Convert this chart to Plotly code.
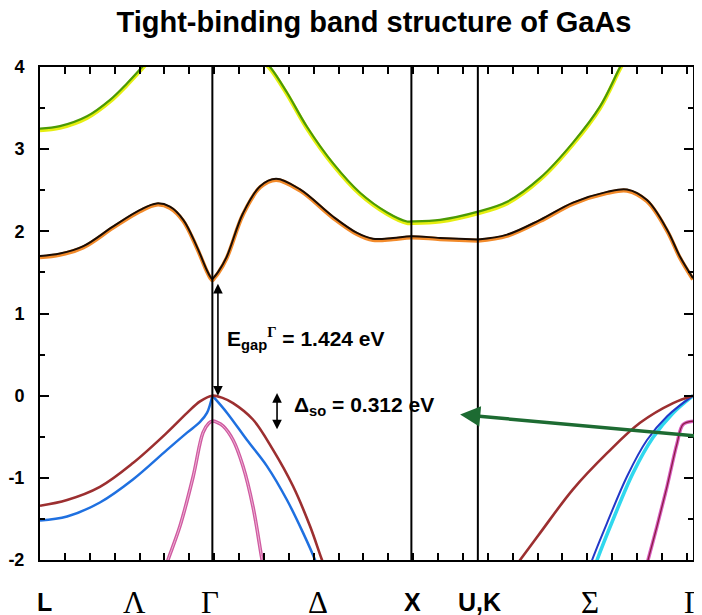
import plotly.graph_objects as go

# ---- symmetry points / axis labels ----
sym_names = ["L", "Λ", "Γ", "Δ", "X", "U,K", "Σ", "Γ"]
sym_k = [0.025, 0.477, 0.854, 1.397, 1.872, 2.21, 2.764, 3.281]
sym_serif = [False, True, True, True, False, False, True, True]
vlines_k = [0.866, 1.866, 2.20]
y_tickvals = [-2, -1, 0, 1, 2, 3, 4]
y_ticktext = ["-2", "-1", "0", "1", "2", "3", "4"]

# ---- band data (k, E in eV) ----
# lowest conduction band  L -> Gamma -> X -> U
cb_LGXU_k = [0, 0.1, 0.218, 0.368, 0.503, 0.586, 0.653, 0.720, 0.787, 0.838, 0.855, 0.866,
             0.877, 0.896, 0.938, 1.020, 1.106, 1.186, 1.307, 1.472, 1.593, 1.673, 1.774,
             1.866, 2.010, 2.20]
cb_LGXU_E = [1.70, 1.73, 1.82, 2.06, 2.26, 2.34, 2.30, 2.14, 1.82, 1.53, 1.45, 1.42,
             1.45, 1.51, 1.69, 2.22, 2.55, 2.64, 2.51, 2.18, 1.98, 1.91, 1.92,
             1.94, 1.92, 1.90]
cb_KG_k = [2.20, 2.347, 2.513, 2.678, 2.849, 2.950, 3.050, 3.151, 3.216, 3.281]
cb_KG_E = [1.90, 1.96, 2.14, 2.35, 2.48, 2.51, 2.38, 2.02, 1.69, 1.43]

# second conduction band
gr_LG_k = [0, 0.1, 0.236, 0.352, 0.437, 0.513, 0.55]
gr_LG_E = [3.25, 3.28, 3.40, 3.60, 3.80, 4.0, 4.1]
gr_GXK_k = [1.12, 1.156, 1.241, 1.342, 1.472, 1.608, 1.744, 1.844, 1.866, 2.010, 2.201,
            2.347, 2.513, 2.678, 2.814, 2.915, 2.95]
gr_GXK_E = [4.08, 4.0, 3.69, 3.27, 2.83, 2.47, 2.23, 2.12, 2.12, 2.14, 2.24,
            2.36, 2.65, 3.08, 3.52, 4.0, 4.15]

# heavy hole  L -> Gamma -> X, and K -> Gamma
hh_LGX_k = [0, 0.136, 0.301, 0.467, 0.638, 0.739, 0.804, 0.866, 0.920, 0.970, 1.070,
            1.171, 1.271, 1.357, 1.417, 1.45]
hh_LGX_E = [-1.34, -1.27, -1.11, -0.82, -0.45, -0.21, -0.07, 0.0, -0.03, -0.09, -0.29,
            -0.66, -1.10, -1.59, -2.0, -2.2]
hh_KG_k = [2.38, 2.412, 2.513, 2.678, 2.849, 3.015, 3.181, 3.281]
hh_KG_E = [-2.1, -2.0, -1.67, -1.14, -0.70, -0.33, -0.09, 0.0]

# light hole
lh_LG_k = [0, 0.136, 0.301, 0.467, 0.638, 0.739, 0.804, 0.839, 0.866]
lh_LG_E = [-1.52, -1.47, -1.30, -1.02, -0.66, -0.45, -0.32, -0.21, 0.0]
lh_GX_k = [0.866, 0.940, 1.040, 1.141, 1.241, 1.322, 1.382, 1.41]
lh_GX_E = [0.0, -0.21, -0.54, -0.86, -1.27, -1.67, -2.0, -2.2]
lh_KG_k = [2.76, 2.774, 2.849, 2.950, 3.050, 3.151, 3.281]
lh_KG_E = [-2.1, -2.0, -1.55, -0.98, -0.54, -0.25, 0.0]
cy_KG_k = [2.785, 2.799, 2.879, 2.980, 3.080, 3.181, 3.281]
cy_KG_E = [-2.1, -2.0, -1.51, -0.94, -0.51, -0.21, 0.0]

# split-off band
so_LGX_k = [0.63, 0.643, 0.703, 0.769, 0.819, 0.848, 0.866, 0.89, 0.920, 0.970, 1.020,
            1.070, 1.116, 1.125]
so_LGX_E = [-2.1, -2.0, -1.59, -0.99, -0.45, -0.335, -0.31, -0.325, -0.37, -0.54, -0.86,
            -1.35, -2.0, -2.1]
so_KG_k = [3.045, 3.055, 3.100, 3.151, 3.201, 3.231, 3.281]
so_KG_E = [-2.1, -2.0, -1.59, -1.10, -0.58, -0.35, -0.31]

fig = go.Figure()


def band(k, E, color, width, dy=0.0):
    fig.add_trace(go.Scatter(
        x=k, y=[e + dy for e in E], mode="lines",
        line=dict(color=color, width=width, shape="spline", smoothing=1.0),
        hoverinfo="skip", showlegend=False))


# conduction bands
for k, E in [(gr_LG_k, gr_LG_E), (gr_GXK_k, gr_GXK_E)]:
    band(k, E, "#e6ee10", 4, -0.02)
    band(k, E, "#4b9a05", 2.2)
for k, E in [(cb_LGXU_k, cb_LGXU_E), (cb_KG_k, cb_KG_E)]:
    band(k, E, "#f28a2a", 4, -0.015)
    band(k, E, "#1a0d05", 2)

# valence bands
band(so_LGX_k, so_LGX_E, "#cf5aa0", 3.5)
band(so_LGX_k, so_LGX_E, "#eeb0d4", 1)
band(so_KG_k, so_KG_E, "#d85cc0", 3.5)
band(so_KG_k, so_KG_E, "#8a1c3e", 1.2)
for k, E in [(lh_LG_k, lh_LG_E), (lh_GX_k, lh_GX_E)]:
    band(k, E, "#1f70e0", 2.5)
band(cy_KG_k, cy_KG_E, "#30d8ee", 3.5)
band(lh_KG_k, lh_KG_E, "#2238c8", 2)
for k, E in [(hh_LGX_k, hh_LGX_E), (hh_KG_k, hh_KG_E)]:
    band(k, E, "#9c2f30", 2.6)

# vertical symmetry lines
for xv in vlines_k:
    fig.add_shape(type="line", xref="x", yref="paper", x0=xv, x1=xv, y0=0, y1=1,
                  line=dict(color="black", width=2))

sans = "Liberation Sans, Arial, sans-serif"
serif = "Liberation Serif, Times New Roman, serif"

# symmetry labels
for name, kx, is_serif in zip(sym_names, sym_k, sym_serif):
    fig.add_annotation(x=kx, y=0, xref="x", yref="paper", text=name, showarrow=False,
                       xanchor="center", yanchor="middle", yshift=-42,
                       font=dict(family=serif if is_serif else sans,
                                 size=31 if is_serif else 25,
                                 color="black", weight="normal" if is_serif else "bold"))

# gap arrow
fig.add_annotation(x=0.894, y=0.0, ax=0.894, ay=1.38, xref="x", yref="y", axref="x", ayref="y",
                   text="", showarrow=True, arrowhead=2, arrowside="end+start",
                   arrowsize=1.2, arrowwidth=1.6, arrowcolor="black")
fig.add_annotation(x=0.930, y=0.70, xref="x", yref="y", xanchor="left", yanchor="middle",
                   showarrow=False,
                   text="E<sub>gap</sub><sup><span style='font-family:Liberation Serif'>Γ</span></sup> = 1.424 eV",
                   font=dict(family=sans, size=21, color="black", weight="bold"))
# spin-orbit arrow
fig.add_annotation(x=1.191, y=-0.41, ax=1.191, ay=0.05, xref="x", yref="y", axref="x", ayref="y",
                   text="", showarrow=True, arrowhead=2, arrowside="end+start",
                   arrowsize=1.2, arrowwidth=1.6, arrowcolor="black")
fig.add_annotation(x=1.266, y=-0.13, xref="x", yref="y", xanchor="left", yanchor="middle",
                   showarrow=False, text="Δ<sub>so</sub> = 0.312 eV",
                   font=dict(family=sans, size=21, color="black", weight="bold"))
# green pointer arrow
fig.add_annotation(x=2.111, y=-0.23, xref="x", yref="y", ax=242, ay=22,
                   text="", showarrow=True, arrowhead=2, arrowsize=1.15, arrowwidth=3.5,
                   arrowcolor="#1d6b32")

# the page body adds an 8 px offset; the figure is sized to fill the rest of the window
fig.update_layout(
    width=694, height=607,
    margin=dict(l=32, r=9, t=59, b=55, autoexpand=False),
    paper_bgcolor="white", plot_bgcolor="white",
    title=dict(text="Tight-binding band structure of GaAs", x=(374 - 8) / 694, xanchor="center",
               y=1 - 14 / 607, yanchor="middle",
               font=dict(family=sans, size=29, color="black", weight="bold")),
    xaxis=dict(range=[0, 3.281], showgrid=False, zeroline=False, showline=True,
               linecolor="black", linewidth=2, mirror="ticks", ticks="inside",
               tick0=0, dtick=0.125, ticklen=7, tickwidth=1.5, tickcolor="black",
               showticklabels=False, automargin=False),
    yaxis=dict(range=[-2, 4], showgrid=False, zeroline=False, showline=True,
               linecolor="black", linewidth=2, mirror="allticks", ticks="inside",
               tickvals=y_tickvals, ticktext=y_ticktext, ticklen=9, tickwidth=2,
               tickcolor="black", ticklabelstandoff=10, automargin=False,
               tickfont=dict(family=sans, size=18, color="black", weight="bold"),
               minor=dict(ticks="inside", dtick=0.5, tick0=0, ticklen=5, tickwidth=1.5,
                          tickcolor="black")),
)

fig.write_html("out.html")
